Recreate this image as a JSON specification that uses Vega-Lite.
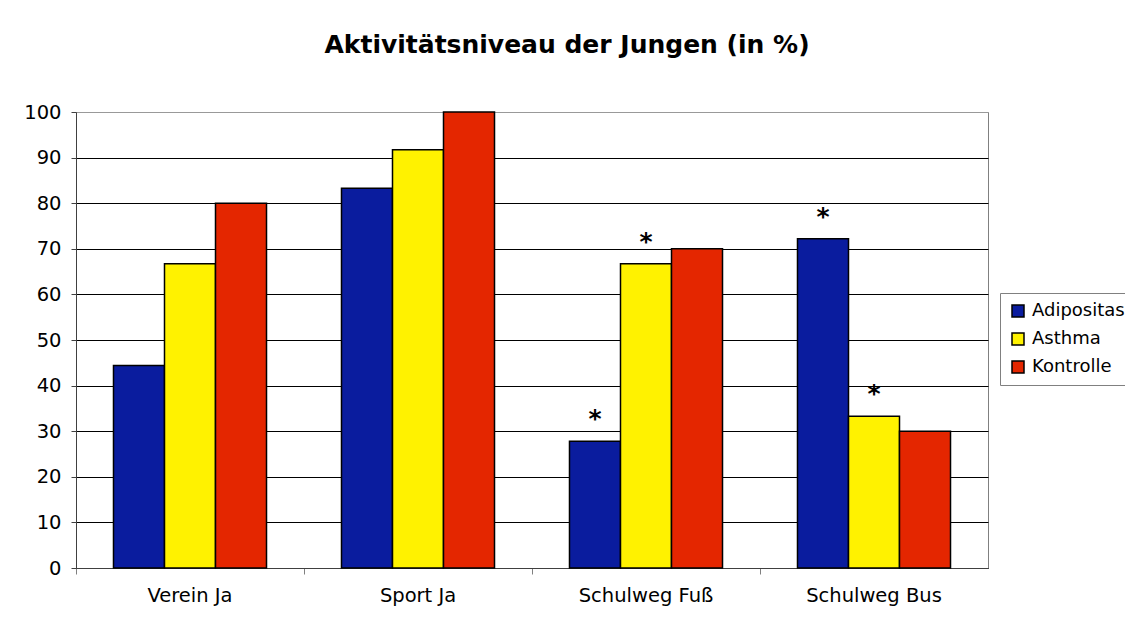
{
  "$schema": "https://vega.github.io/schema/vega-lite/v6.json",
  "width": 912,
  "height": 456,
  "autosize": {"type": "none"},
  "padding": {"left": 76, "top": 112, "right": 137, "bottom": 62},
  "background": "white",
  "title": {
    "text": "Aktivitätsniveau der Jungen (in %)",
    "font": "DejaVu Sans",
    "fontSize": 25,
    "fontWeight": "bold",
    "color": "black",
    "anchor": "middle",
    "dx": 35,
    "offset": 44
  },
  "config": {
    "view": {"stroke": "#808080", "strokeWidth": 1},
    "font": "DejaVu Sans"
  },
  "data": {
    "values": [
      {"Kategorie": "Verein Ja", "Gruppe": "Adipositas", "Wert": 44.4, "Stern": ""},
      {"Kategorie": "Verein Ja", "Gruppe": "Asthma", "Wert": 66.7, "Stern": ""},
      {"Kategorie": "Verein Ja", "Gruppe": "Kontrolle", "Wert": 80.0, "Stern": ""},
      {"Kategorie": "Sport Ja", "Gruppe": "Adipositas", "Wert": 83.3, "Stern": ""},
      {"Kategorie": "Sport Ja", "Gruppe": "Asthma", "Wert": 91.7, "Stern": ""},
      {"Kategorie": "Sport Ja", "Gruppe": "Kontrolle", "Wert": 100.0, "Stern": ""},
      {"Kategorie": "Schulweg Fuß", "Gruppe": "Adipositas", "Wert": 27.8, "Stern": "*"},
      {"Kategorie": "Schulweg Fuß", "Gruppe": "Asthma", "Wert": 66.7, "Stern": "*"},
      {"Kategorie": "Schulweg Fuß", "Gruppe": "Kontrolle", "Wert": 70.0, "Stern": ""},
      {"Kategorie": "Schulweg Bus", "Gruppe": "Adipositas", "Wert": 72.2, "Stern": "*"},
      {"Kategorie": "Schulweg Bus", "Gruppe": "Asthma", "Wert": 33.3, "Stern": "*"},
      {"Kategorie": "Schulweg Bus", "Gruppe": "Kontrolle", "Wert": 30.0, "Stern": ""}
    ]
  },
  "encoding": {
    "x": {
      "field": "Kategorie",
      "type": "nominal",
      "sort": ["Verein Ja", "Sport Ja", "Schulweg Fuß", "Schulweg Bus"],
      "scale": {"paddingInner": 0, "paddingOuter": 0},
      "axis": {
        "title": null,
        "labelAngle": 0,
        "bandPosition": 0,
        "labelFontSize": 19.5,
        "labelColor": "black",
        "labelPadding": 12,
        "tickSize": 6,
        "tickColor": "#808080",
        "domainColor": "#404040",
        "grid": false
      }
    },
    "xOffset": {
      "field": "Gruppe",
      "type": "nominal",
      "sort": ["Adipositas", "Asthma", "Kontrolle"],
      "scale": {"paddingInner": 0, "paddingOuter": 0.735}
    },
    "y": {
      "field": "Wert",
      "type": "quantitative",
      "scale": {"domain": [0, 100], "nice": false},
      "axis": {
        "title": null,
        "values": [0, 10, 20, 30, 40, 50, 60, 70, 80, 90, 100],
        "labelFontSize": 19.5,
        "labelColor": "black",
        "labelPadding": 10,
        "tickSize": 5,
        "tickColor": "#404040",
        "domainColor": "#404040",
        "grid": true,
        "gridColor": {"condition": {"test": "datum.value === 100", "value": "#999999"}, "value": "black"},
        "gridWidth": 1,
        "gridOpacity": 1
      }
    }
  },
  "layer": [
    {
      "mark": {"type": "bar", "stroke": "black", "strokeWidth": 1.5},
      "encoding": {
        "color": {
          "field": "Gruppe",
          "type": "nominal",
          "scale": {
            "domain": ["Adipositas", "Asthma", "Kontrolle"],
            "range": ["#0A1C9E", "#FFF200", "#E42600"]
          },
          "legend": {
            "title": null,
            "orient": "none",
            "legendX": 924,
            "legendY": 181,
            "strokeColor": "#808080",
            "fillColor": "white",
            "padding": 9,
            "symbolType": "square",
            "symbolSize": 144,
            "symbolStrokeColor": "black",
            "symbolStrokeWidth": 1.5,
            "symbolOpacity": 1,
            "labelFontSize": 18,
            "labelColor": "black",
            "labelOffset": 5,
            "rowPadding": 10
          }
        }
      }
    },
    {
      "transform": [{"filter": "datum.Stern !== ''"}],
      "mark": {
        "type": "text",
        "fontSize": 25,
        "fontWeight": "bold",
        "color": "black",
        "baseline": "alphabetic",
        "dy": -14
      },
      "encoding": {
        "text": {"field": "Stern"}
      }
    }
  ]
}
